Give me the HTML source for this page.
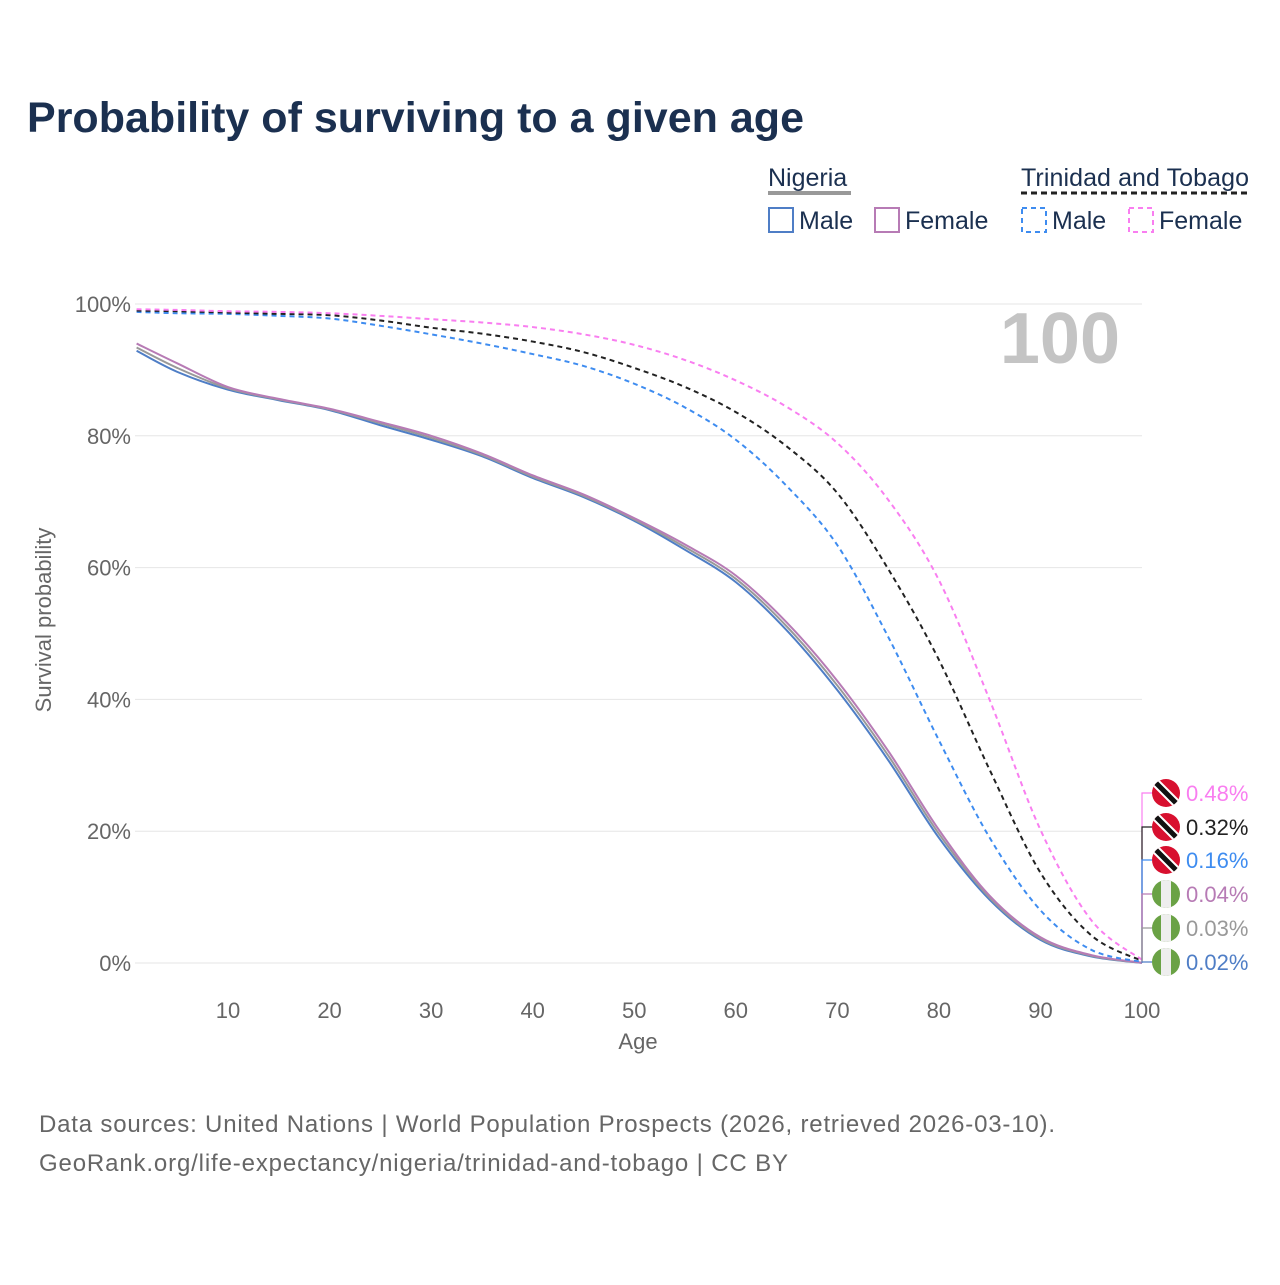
<!DOCTYPE html>
<html><head><meta charset="utf-8"><style>
body{margin:0;background:#fff;font-family:"Liberation Sans",sans-serif}
svg text{font-family:"Liberation Sans",sans-serif}
</style></head><body>
<svg width="1280" height="1280" viewBox="0 0 1280 1280" xmlns="http://www.w3.org/2000/svg">
<text x="27" y="132" font-size="43" font-weight="bold" fill="#1b3050" textLength="777">Probability of surviving to a given age</text>
<g>
<text x="768" y="186" font-size="25" fill="#1b3050">Nigeria</text>
<line x1="768" y1="193" x2="851" y2="193" stroke="#999" stroke-width="4"/>
<text x="1021" y="186" font-size="25" fill="#1b3050" textLength="228">Trinidad and Tobago</text>
<line x1="1021" y1="193" x2="1249" y2="193" stroke="#222" stroke-width="3" stroke-dasharray="6,4"/>
<rect x="769" y="208" width="24" height="24" fill="none" stroke="#4f7ec6" stroke-width="2"/>
<text x="799" y="229" font-size="25" fill="#1b3050">Male</text>
<rect x="875" y="208" width="24" height="24" fill="none" stroke="#b77bb5" stroke-width="2"/>
<text x="905" y="229" font-size="25" fill="#1b3050">Female</text>
<rect x="1022" y="208" width="24" height="24" fill="none" stroke="#3e8cf0" stroke-width="2" stroke-dasharray="5,4"/>
<text x="1052" y="229" font-size="25" fill="#1b3050">Male</text>
<rect x="1129" y="208" width="24" height="24" fill="none" stroke="#f97ef0" stroke-width="2" stroke-dasharray="5,4"/>
<text x="1159" y="229" font-size="25" fill="#1b3050">Female</text>
</g>
<g id="grid"></g>
<text x="1120" y="363" font-size="72" font-weight="bold" fill="#c4c4c4" text-anchor="end">100</text>
<g id="lines"></g>
<g id="labels"></g>
<text x="638" y="1049" font-size="22" fill="#666" text-anchor="middle">Age</text>
<text transform="translate(51,620) rotate(-90)" font-size="22" fill="#666" text-anchor="middle">Survival probability</text>
<text x="39" y="1132" font-size="24" fill="#666" textLength="1016">Data sources: United Nations | World Population Prospects (2026, retrieved 2026-03-10).</text>
<text x="39" y="1171" font-size="24" fill="#666" textLength="749">GeoRank.org/life-expectancy/nigeria/trinidad-and-tobago | CC BY</text>
</svg>
<script>
const ages=[1,5,10,15,20,25,30,35,40,45,50,55,60,65,70,75,80,85,90,95,100];
const ngMale=[92.9,89.7,87,85.4,83.9,81.6,79.4,76.9,73.6,70.7,67.1,62.7,57.8,50.5,41.4,30.8,19.0,9.6,3.5,1.0,0.02];
const ngTotal=[93.4,90.3,87.2,85.5,84.0,81.9,79.7,77.1,73.8,70.9,67.3,63.1,58.3,51.1,42.1,31.5,19.6,9.9,3.7,1.1,0.03];
const ngFemale=[94.0,91.0,87.4,85.6,84.1,82.1,80.0,77.3,74.0,71.1,67.5,63.5,58.8,51.7,42.8,32.2,20.2,10.2,3.9,1.2,0.04];
const ttMale=[98.8,98.6,98.5,98.2,97.8,96.7,95.4,94.0,92.4,90.6,87.9,84.3,79.4,72.4,63.4,49.5,33.8,19.0,8.0,2.0,0.16];
const ttTotal=[99.0,98.9,98.7,98.5,98.3,97.5,96.4,95.5,94.3,92.7,90.3,87.4,83.6,78.4,71.3,59.8,46.0,29.3,13.7,4.2,0.32];
const ttFemale=[99.2,99.1,98.9,98.8,98.6,98.2,97.7,97.2,96.5,95.4,93.8,91.5,88.4,84.4,78.9,70.3,58.1,39.9,20.2,6.5,0.48];
const yTicks=[0,20,40,60,80,100];
const xTicks=[10,20,30,40,50,60,70,80,90,100];
const X=a=>228+(a-10)*10.156;
const Y=p=>963-p*6.59;
const NS="http://www.w3.org/2000/svg";
function mk(t,attrs,parent){const e=document.createElementNS(NS,t);for(const k in attrs)e.setAttribute(k,attrs[k]);parent.appendChild(e);return e;}
const grid=document.getElementById('grid');
yTicks.forEach(v=>{
 const l=mk('line',{x1:135,x2:1142,y1:Y(v),y2:Y(v),stroke:'#e6e6e6','stroke-width':1},grid);
 
 
 const t=mk('text',{x:131,y:Y(v)+8,'font-size':22,fill:'#666','text-anchor':'end'},grid);
 t.textContent=v+'%';
 
 
});
xTicks.forEach(v=>{
 const t=mk('text',{x:X(v),y:1018,'font-size':22,fill:'#666','text-anchor':'middle'},grid);
 t.textContent=v;
 
 
});
function path(vals){
 const p=ages.map((a,i)=>[X(a),Y(vals[i])]);
 let d='M'+p[0][0]+','+p[0][1];
 for(let i=0;i<p.length-1;i++){
  const p0=p[i-1]||p[i],p1=p[i],p2=p[i+1],p3=p[i+2]||p2;
  const c1=[p1[0]+(p2[0]-p0[0])/6,p1[1]+(p2[1]-p0[1])/6];
  const c2=[p2[0]-(p3[0]-p1[0])/6,p2[1]-(p3[1]-p1[1])/6];
  d+=`C${c1[0]},${c1[1]} ${c2[0]},${c2[1]} ${p2[0]},${p2[1]}`;
 }
 return d;
}
const lines=document.getElementById('lines');
const series=[
 ['tt-female',ttFemale,'#f97ef0','5,4','0.48%',793,'tt'],
 ['tt-total',ttTotal,'#222','5,4','0.32%',827,'tt'],
 ['tt-male',ttMale,'#3e8cf0','5,4','0.16%',860,'tt'],
 ['ng-female',ngFemale,'#b77bb5','','0.04%',894,'ng'],
 ['ng-total',ngTotal,'#999','','0.03%',928,'ng'],
 ['ng-male',ngMale,'#4f7ec6','','0.02%',962,'ng']];
[...series].reverse().forEach(s=>{
 const e=mk('path',{d:path(s[1]),fill:'none',stroke:s[2],'stroke-width':2,'stroke-dasharray':s[3]},lines);
 
 
});
const lab=document.getElementById('labels');
series.forEach(s=>{
 const yEnd=Y(s[1][s[1].length-1]);
 const c=mk('polyline',{points:`1142,${yEnd} 1142,${s[5]} 1152,${s[5]}`,fill:'none',stroke:s[2],'stroke-width':1.2},lab);
 
 
 const g=mk('g',{},lab);
 
 
 const id='clip-'+s[0];
 const cp=mk('clipPath',{id:id},g);mk('circle',{cx:1166,cy:s[5],r:14},cp);
 const gg=mk('g',{'clip-path':`url(#${id})`},g);
 if(s[6]==='tt'){
  mk('rect',{x:1150,y:s[5]-16,width:32,height:32,fill:'#d8102f'},gg);
  mk('line',{x1:1152,y1:s[5]-14,x2:1180,y2:s[5]+14,stroke:'#fff','stroke-width':9},gg);
  mk('line',{x1:1152,y1:s[5]-14,x2:1180,y2:s[5]+14,stroke:'#111','stroke-width':5},gg);
 }else{
  mk('rect',{x:1150,y:s[5]-16,width:32,height:32,fill:'#6aa245'},gg);
  mk('rect',{x:1161,y:s[5]-16,width:10,height:32,fill:'#eeeeee'},gg);
 }
 const t=mk('text',{x:1186,y:s[5]+8,'font-size':22,fill:s[2]},lab);
 t.textContent=s[4];
 
 
});
</script>
</body></html>
